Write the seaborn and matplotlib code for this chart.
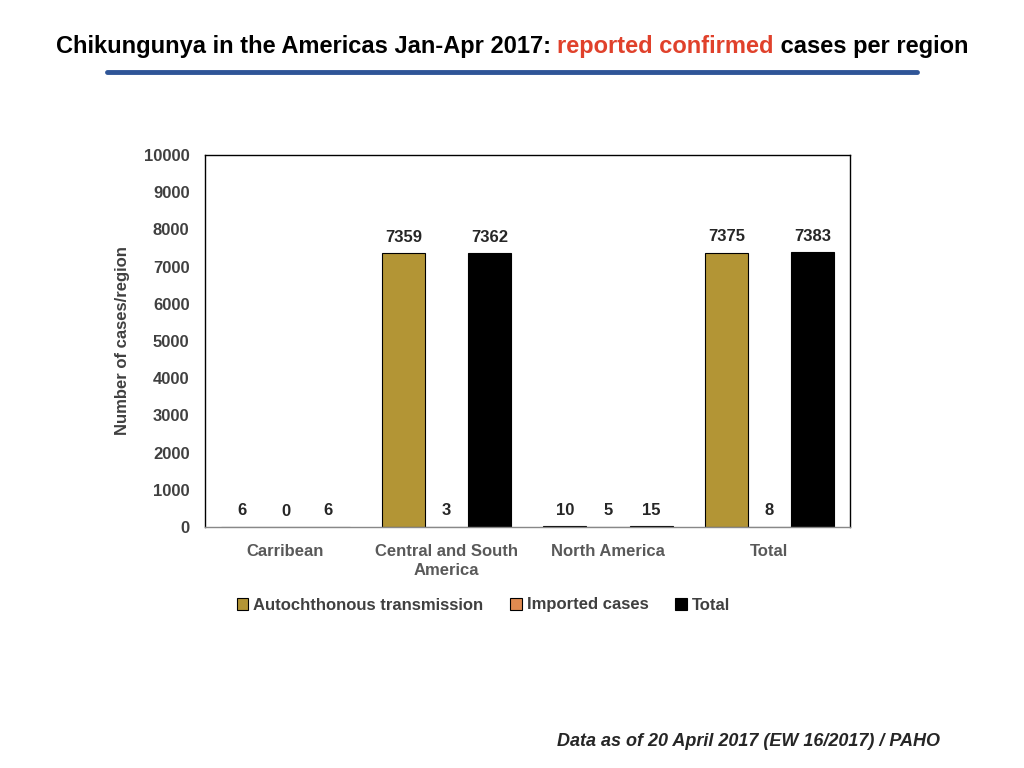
import matplotlib
matplotlib.use("Agg")
import matplotlib.pyplot as plt
import seaborn as sns
import pandas as pd

regions = ["Carribean", "Central and South\nAmerica", "North America", "Total"]
series = ["Autochthonous transmission", "Imported cases", "Total"]
autochthonous = [6, 7359, 10, 7375]
imported = [0, 3, 5, 8]
total = [6, 7362, 15, 7383]
colors = ["#B39535", "#E08A50", "#000000"]

rows = []
for name, vals in zip(series, [autochthonous, imported, total]):
    for r, v in zip(regions, vals):
        rows.append({"region": r, "series": name, "cases": v})
df = pd.DataFrame(rows)

sns.set_style("white")
plt.rcParams["font.family"] = ["Liberation Sans", "DejaVu Sans"]

fig = plt.figure(figsize=(10.24, 7.68), dpi=100)
ax = fig.add_axes([0.200, 0.314, 0.630, 0.484])

sns.barplot(data=df, x="region", y="cases", hue="series", palette=colors,
            order=regions, hue_order=series, width=0.8, saturation=1,
            edgecolor="black", linewidth=0.8, ax=ax)

for cont in ax.containers:
    ax.bar_label(cont, padding=6, fontsize=12, fontweight="bold", color="#262626")

ax.set_ylim(0, 10000)
ax.set_yticks(range(0, 10001, 1000))
ax.set_xlabel("")
ax.set_ylabel("Number of cases/region", fontsize=12, fontweight="bold", color="#404040",
              labelpad=10)
ax.tick_params(axis="y", length=0, pad=11)
ax.tick_params(axis="x", length=0, pad=12)
for lab in ax.get_yticklabels():
    lab.set_fontweight("bold"); lab.set_color("#404040"); lab.set_fontsize(12)
for lab in ax.get_xticklabels():
    lab.set_fontweight("bold"); lab.set_color("#595959"); lab.set_fontsize(12)
    lab.set_linespacing(1.4)
for sp in ax.spines.values():
    sp.set_color("black"); sp.set_linewidth(1.0)
ax.spines["bottom"].set_color("#888888")

ax.get_legend().remove()
handles, labels = ax.get_legend_handles_labels()
leg = fig.legend(handles, labels, loc="center", bbox_to_anchor=(0.472, 1 - 605 / 768),
                 ncol=3, frameon=False, handlelength=0.7, handleheight=0.7,
                 handletextpad=0.3, columnspacing=1.6,
                 prop={"weight": "bold", "size": 12})
for t in leg.get_texts():
    t.set_color("#404040")

# title with coloured middle part
parts = [("Chikungunya in the Americas Jan-Apr 2017: ", "black"),
         ("reported confirmed", "#E0412B"),
         (" cases per region", "black")]
fig.canvas.draw()
renderer = fig.canvas.get_renderer()
texts = []
widths = []
for s, c in parts:
    t = fig.text(0, 1 - 46 / 768, s, color=c, fontsize=17, fontweight="bold", va="center")
    texts.append(t)
    widths.append(t.get_window_extent(renderer).width)
x0 = (1024 - sum(widths)) / 2
for t, w in zip(texts, widths):
    t.set_x(x0 / 1024)
    x0 += w

fig.add_artist(plt.Line2D([107 / 1024, 917 / 1024], [1 - 72 / 768, 1 - 72 / 768],
                          color="#2F5597", linewidth=3.5))

fig.text(940 / 1024, 1 - 741 / 768, "Data as of 20 April 2017 (EW 16/2017) / PAHO",
         ha="right", va="center", fontsize=13, fontweight="bold", fontstyle="italic")

fig.savefig("out.png", dpi=100)
